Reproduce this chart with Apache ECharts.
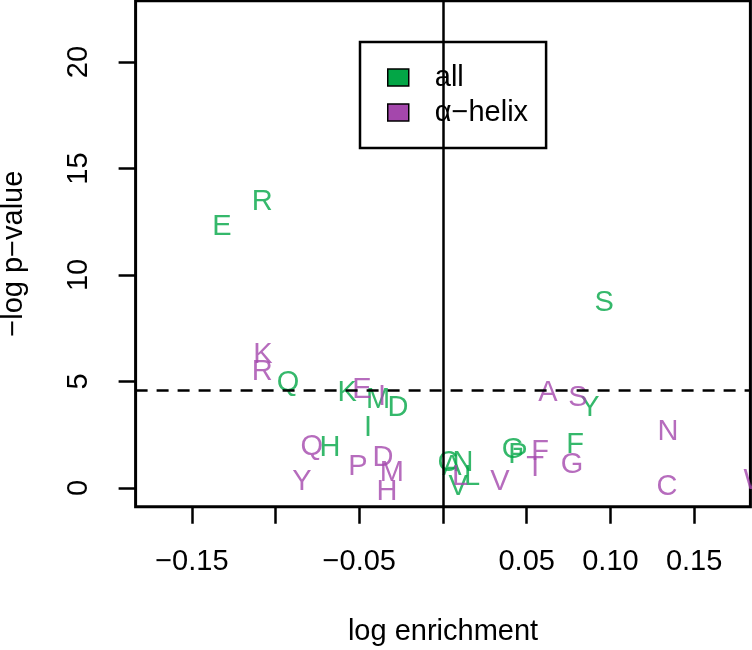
<!DOCTYPE html>
<html>
<head>
<meta charset="utf-8">
<script src="https://cdn.jsdelivr.net/npm/echarts@6/dist/echarts.min.js"></script>
<style>html,body{margin:0;padding:0;background:#fff}#c{width:752px;height:650px}</style>
</head>
<body>
<div id="c"></div>
<script>
// ---- data ----
var allLetters = ['R','E','Q','K','M','D','I','H','S','Y','F','G','P','C','A','N','L','V'];
var allX = [-0.108,-0.132,-0.0926,-0.0573,-0.0388,-0.0269,-0.0448,-0.0675,0.0962,0.0878,0.0789,0.0418,0.0448,0.003,0.0054,0.012,0.0173,0.009];
var allY = [13.43,12.25,4.93,4.46,4.13,3.76,2.82,1.88,8.69,3.76,2.02,1.78,1.55,1.17,0.99,1.17,0.52,0.05];

var helixLetters = ['K','R','E','I','Q','P','D','M','H','Y','A','S','N','F','T','G','V','L','C','W'];
var helixX = [-0.1075,-0.108,-0.0484,-0.0364,-0.0783,-0.0508,-0.0358,-0.0305,-0.0335,-0.0842,0.0627,0.0806,0.1344,0.058,0.055,0.077,0.034,0.0102,0.1338,0.1876];
var helixY = [6.24,5.45,4.6,4.27,1.93,0.99,1.41,0.7,-0.19,0.28,4.46,4.23,2.63,1.69,0.94,1.08,0.28,0.52,0.05,0.33];

var seriesNames = ['all', 'α−helix'];
var xTicks = [-0.15,-0.10,-0.05,0,0.05,0.10,0.15];
var xLabels = [-0.15,-0.05,0.05,0.10,0.15];
var yTicks = [0,5,10,15,20];
var threshold = 4.57;
var xRange = [-0.1836, 0.1836];
var yRange = [-0.88, 22.88];

// ---- styles ----
var GREEN = '#03A646';
var PURPLE = '#A447AC';
var FONT = '"Liberation Sans", Arial, Helvetica, sans-serif';
var FS = 29;

function build(letters, xs, ys) {
  return letters.map(function (l, i) { return { name: l, value: [xs[i], ys[i]] }; });
}
function fmt(v) {
  var s = Math.abs(v) < 1e-9 ? '0' : v.toFixed(2);
  return s.replace('-', '\u2212');
}

var chart = echarts.init(document.getElementById('c'), null, { renderer: 'canvas' });
chart.setOption({
  animation: false,
  backgroundColor: '#fff',
  textStyle: { fontFamily: FONT },
  grid: {
    left: 135.6, right: 1.6, top: 0.7, bottom: 143.3,
    containLabel: false, outerBoundsMode: 'none',
    show: true, borderColor: '#000', borderWidth: 3, backgroundColor: 'transparent'
  },
  legend: {
    left: 360, top: 42,
    orient: 'vertical',
    backgroundColor: '#fff',
    borderColor: '#000', borderWidth: 2.5, borderRadius: 0,
    padding: [21, 18, 21, 27],
    itemGap: 6,
    itemWidth: 21, itemHeight: 17,
    icon: 'rect',
    selectedMode: false,
    textStyle: { fontSize: FS, fontFamily: FONT, color: '#000', padding: [0, 0, 0, 21], lineHeight: 29 },
    data: [
      { name: seriesNames[0], itemStyle: { color: GREEN, borderColor: '#000', borderWidth: 1.5, opacity: 1 } },
      { name: seriesNames[1], itemStyle: { color: PURPLE, borderColor: '#000', borderWidth: 1.5, opacity: 1 } }
    ]
  },
  xAxis: {
    type: 'value', min: xRange[0], max: xRange[1],
    name: 'log enrichment', nameLocation: 'middle', nameGap: 111,
    nameTextStyle: { fontSize: FS, color: '#000', fontFamily: FONT },
    axisLine: { show: false, onZero: false },
    splitLine: { show: false },
    axisTick: { show: true, length: 17, inside: false, customValues: xTicks, lineStyle: { color: '#000', width: 2.5 } },
    axisLabel: { show: true, customValues: xLabels, margin: 41, fontSize: FS, color: '#000', fontFamily: FONT, formatter: fmt }
  },
  yAxis: {
    type: 'value', min: yRange[0], max: yRange[1],
    name: '\u2212log p\u2212value', nameLocation: 'middle', nameGap: 107,
    nameTextStyle: { fontSize: FS, color: '#000', fontFamily: FONT },
    axisLine: { show: false, onZero: false },
    splitLine: { show: false },
    axisTick: { show: true, length: 17, inside: false, customValues: yTicks, lineStyle: { color: '#000', width: 2.5 } },
    axisLabel: { show: true, customValues: yTicks, rotate: 90, margin: 42, fontSize: FS, color: '#000', fontFamily: FONT, formatter: function (v) { return String(v); } }
  },
  series: [
    {
      name: seriesNames[0], type: 'scatter', symbolSize: 0, clip: true,
      itemStyle: { color: GREEN },
      label: { show: true, position: 'inside', formatter: '{b}', fontSize: FS, fontFamily: FONT, color: GREEN },
      data: build(allLetters, allX, allY), z: 2
    },
    {
      name: seriesNames[1], type: 'scatter', symbolSize: 0, clip: false,
      itemStyle: { color: PURPLE },
      label: { show: true, position: 'inside', formatter: '{b}', fontSize: FS, fontFamily: FONT, color: PURPLE },
      data: build(helixLetters, helixX, helixY), z: 3,
      markLine: {
        silent: true, symbol: 'none', label: { show: false }, z: 5,
        data: [
          { xAxis: 0, lineStyle: { color: '#000', width: 2.5, type: 'solid' } },
          { yAxis: threshold, lineStyle: { color: '#000', width: 2.5, type: [12, 9] } }
        ]
      }
    }
  ]
});
</script>
</body>
</html>
